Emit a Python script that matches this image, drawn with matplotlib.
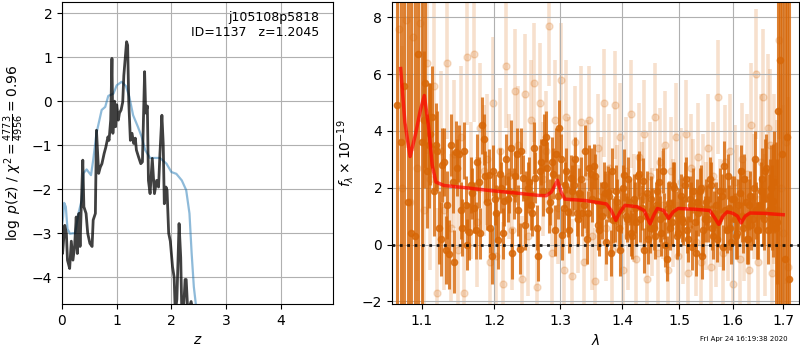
import numpy as np
import matplotlib
matplotlib.use("Agg")
import matplotlib.pyplot as plt
from matplotlib.ticker import FixedLocator, FixedFormatter, NullLocator

# ---------------- data: redshift probability ----------------
z_black = [0.00, 0.01, 0.05, 0.08, 0.10, 0.14, 0.17, 0.20, 0.23, 0.26, 0.28, 0.31, 0.33, 0.35,
           0.38, 0.40, 0.44, 0.47, 0.51, 0.55, 0.57, 0.61, 0.63, 0.67, 0.70, 0.73, 0.77,
           0.80, 0.84, 0.86, 0.89, 0.913, 0.93, 0.96, 0.98, 1.00, 1.03, 1.05, 1.08, 1.11,
           1.13, 1.18, 1.20, 1.22, 1.25, 1.28, 1.31, 1.34, 1.36, 1.40, 1.44, 1.47, 1.51,
           1.53, 1.56, 1.58, 1.61, 1.65, 1.69, 1.73, 1.765, 1.79, 1.826, 1.85, 1.87, 1.90,
           1.92, 1.95, 1.98, 2.02, 2.05, 2.07, 2.10, 2.14, 2.17, 2.19, 2.22, 2.25, 2.27,
           2.30, 2.36, 2.40, 2.45]
logp_black = [-2.9, -3.46, -2.82, -3.0, -3.61, -3.8, -3.18, -3.61, -3.3, -2.63, -3.46, -2.55, -3.3, -2.48,
              -1.34, -2.4, -2.55, -3.0, -3.23, -3.3, -2.7, -2.55, -0.66, -1.64, -1.5, -1.42, -1.19,
              -1.05, -0.81, -0.89, -0.43, 0.97, -0.73, 0.0, -0.58, -0.08, -0.43, -0.27, -0.2, -0.02,
              0.58, 1.35, 1.27, 0.0, -0.89, -0.73, -0.96, -0.84, -1.11, -1.27, -1.42, -1.38, 0.67,
              -0.27, -0.11, -1.8, -2.1, -1.3, -2.1, -1.8, -1.95, -1.2, -0.32, -0.96, -2.33, -1.95,
              -2.02, -3.0, -3.18, -3.76, -4.0, -4.8, -4.5, -2.78, -3.55, -4.8, -4.8, -4.05, -4.05,
              -4.8, -4.55, -4.8, -5.5]

z_blue = [0.0, 0.02, 0.04, 0.07, 0.10, 0.146, 0.2, 0.24, 0.30, 0.36, 0.39, 0.45, 0.53, 0.57,
          0.63, 0.725, 0.79, 0.846, 0.94, 1.0, 1.09, 1.17, 1.23, 1.30, 1.39, 1.456, 1.52,
          1.61, 1.70, 1.79, 1.91, 2.0, 2.09, 2.19, 2.27, 2.33, 2.37, 2.41, 2.45, 2.5]
logp_blue = [-2.8, -2.63, -2.31, -2.4, -2.9, -3.01, -3.0, -3.0, -2.55, -2.25, -1.64, -1.55, -1.68, -1.34,
             -0.73, -0.2, -0.13, 0.12, 0.17, 0.36, 0.44, 0.34, 0.1, -0.32, -0.59, -0.81, -1.11,
             -1.29, -1.29, -1.29, -1.42, -1.61, -1.65, -1.8, -2.02, -2.55, -3.46, -4.22, -4.65, -5.5]

label_text = "j105108p5818\nID=1137   z=1.2045"
left_yticks = [-4, -3, -2, -1, 0, 1, 2]
left_xticks = [0, 1, 2, 3, 4]

# ---------------- data: spectrum ----------------
wave_dark_start, wave_dark_end = 1.068, 1.712
flux_dark = [4.9, 3.6, 5.6, 1.5, 0.4, 0.3, 6.7, 3.6, 5.7, 3.5,
             4.5, 3.5, 0.6, 2.8, -0.2, -0.35, 2.2, 3.25, 3.2, 0.6,
             1.4, 0.45, 1.8, 0.5, 2.2, 4.2, 2.4, 2.45, -0.4, 1.6,
             0.15, 2.0, 1.55, 1.6, 3.4, 1.8, 3.2, -0.15, 2.35, 1.7,
             2.2, 1.1, 2.35, -0.4, 2.9, 3.6, 2.7, 1.5, 2.5, 3.2,
             4.1, 0.35, 2.1, 1.15, 2.35, 2.1, 1.1, 1.8, 1.1, 3.3,
             1.1, 2.5, 2.75, 1.55, 0.5, 1.0, 1.8, 1.85, -0.3, 0.85,
             1.9, 0.6, 1.2, 2.45, 0.9, 1.5, 0.3, 1.3, 2.4, 0.9,
             2.25, 1.0, 0.2, 1.6, 0.6, 1.4, 2.2, 0.4, 1.0, -0.5,
             1.45, 0.8, 2.0, 0.3, 1.2, 0.9, 2.1, 0.5, 1.6, -0.1,
             0.8, 1.5, 1.9, -0.4, 0.9, 1.3, 2.3, 0.6, 1.1, 0.2,
             0.9, 1.7, 2.75, 0.5, 1.3, 0.1, 1.6, 0.3, 1.4, 2.6,
             0.6, 1.5, 0.2, 1.7, 0.9, 3.0, 0.5, 1.4, 2.3, 0.9,
             2.7, 1.2, 2.0, 1.55, 0.6, 4.7, 6.5, 3.2, -0.5, 3.8,
             -1.2]
err_dark = [20, 20, 20, 20, 20, 20, 20, 12, 3.0, 2.2,
            1.8, 1.5, 1.3, 1.3, 1.2, 1.2, 1.1, 1.1, 1.0, 1.0,
            1.0, 1.0, 0.9, 1.0, 0.9, 1.0, 0.9, 0.9, 1.0, 0.9,
            1.0, 0.9, 0.9, 0.8, 1.0, 0.9, 0.9, 0.9, 0.8, 0.9,
            0.9, 0.8, 0.9, 0.9, 0.8, 1.0, 0.9, 0.8, 0.9, 0.9,
            1.0, 0.9, 0.8, 0.9, 0.8, 0.9, 0.8, 0.9, 0.8, 0.9,
            0.8, 0.9, 0.8, 0.8, 0.9, 0.8, 0.8, 0.9, 0.8, 0.8,
            0.9, 0.8, 0.8, 0.9, 0.8, 0.8, 0.8, 0.9, 0.8, 0.8,
            0.8, 0.8, 0.9, 0.8, 0.8, 0.8, 0.9, 0.8, 0.8, 0.8,
            0.8, 0.8, 0.9, 0.8, 0.8, 0.8, 0.8, 0.8, 0.8, 0.8,
            0.8, 0.8, 0.8, 0.8, 0.8, 0.8, 0.8, 0.8, 0.8, 0.8,
            0.8, 0.8, 0.9, 0.8, 0.8, 0.8, 0.8, 0.8, 0.9, 0.9,
            0.9, 0.9, 0.9, 0.9, 0.9, 1.0, 1.0, 1.0, 1.1, 1.1,
            1.2, 1.3, 1.5, 2.0, 3.0, 20, 20, 20, 20, 20,
            20]

wave_dark2_start, wave_dark2_end = 1.1025, 1.6865
flux_dark2 = [4.4, 2.6, 3.9, 1.9, 3.3, 0.2, 2.9, 1.4, 3.5, -0.6, 2.7,
              1.2, 3.3, 0.0, 2.1, 1.3, 2.9, 0.4, 3.7, 1.5, 0.6, 2.6,
              1.1, 2.5, 0.4, 3.0, 1.9, -0.3, 2.4, 1.2, 3.3, 0.7, 2.0,
              1.4, 3.4, 0.6, 2.6, 1.9, 3.8, 1.2, 2.9, 0.5, 1.7, 3.0,
              1.3, 2.6, 0.5, 1.9, 3.0, 0.9, 2.3, 1.4, 0.2, 2.7, 1.6,
              2.4, 0.7, 1.4, 2.1, 0.1, 1.7, 2.6, 0.9, 1.5, -0.2, 2.0,
              1.0, 2.3, 0.4, 1.6, 0.8, 2.5, 1.3, -0.2, 1.8, 0.6, 1.2,
              0.3, 1.9, 0.9, 2.6, 0.0, 1.3, 0.6, 2.1, 1.1, 0.4, 1.7,
              0.8, 2.3, 0.2, 1.4, 1.9, -0.3, 1.1, 2.0, 0.5, 1.5, 0.9,
              2.1, 0.3, 1.4, 0.8, 1.9, -0.1, 1.2, 2.4, 0.6, 1.6, 0.9,
              0.4, 1.8, 1.0, 2.3, 0.2, 1.4, 0.7, 2.0, 1.2, 0.5, 1.9,
              1.1, 2.6, 0.5, 1.7, 1.3, 2.2, 0.8]
err_dark2 = [2.4, 2.0, 1.8, 1.6, 1.4, 1.3, 1.2, 1.2, 1.1, 1.1, 1.0,
             1.0, 1.0, 0.9, 1.0, 0.9, 1.0, 0.9, 0.9, 1.0, 0.9, 0.9,
             1.0, 0.9, 0.9, 0.9, 0.8, 0.9, 0.9, 0.9, 0.8, 0.9, 0.9,
             0.9, 0.9, 0.8, 0.9, 0.9, 0.9, 0.8, 0.9, 0.9, 0.8, 0.9,
             0.9, 0.8, 0.8, 0.9, 0.8, 0.9, 0.8, 0.8, 0.9, 0.8, 0.8,
             0.8, 0.9, 0.8, 0.8, 0.8, 0.9, 0.8, 0.8, 0.8, 0.9, 0.8,
             0.8, 0.8, 0.8, 0.9, 0.8, 0.8, 0.8, 0.8, 0.8, 0.9, 0.8,
             0.8, 0.8, 0.8, 0.8, 0.8, 0.9, 0.8, 0.8, 0.8, 0.8, 0.8,
             0.8, 0.8, 0.8, 0.8, 0.8, 0.8, 0.8, 0.8, 0.9, 0.8, 0.8,
             0.8, 0.8, 0.8, 0.9, 0.8, 0.8, 0.8, 0.8, 0.8, 0.8, 0.9,
             0.9, 0.9, 0.9, 0.9, 0.9, 0.9, 0.9, 1.0, 1.0, 1.0, 1.0,
             1.1, 1.1, 1.2, 1.3, 1.5, 1.8, 2.2]

wave_light_start, wave_light_end = 1.0703, 1.7097
flux_light = [7.6, 2.0, 7.9, 1.5, 7.3, 2.7, 7.8, 1.2, 6.4, 2.3,
              5.6, -1.7, 3.3, 1.2, 6.4, 0.6, 3.2, -0.2, 3.8, -1.7,
              6.6, 1.9, 6.7, 0.8, 4.1, 2.6, 3.0, -0.6, 5.0, -0.4,
              3.3, -1.4, 6.3, 2.4, 0.5, 5.4, 3.5, -1.2, 5.3, 0.3,
              4.4, 5.7, -1.5, 5.0, 2.3, 3.3, 7.7, -0.3, 4.4, 1.3,
              5.8, -0.9, 4.5, 2.5, -1.1, 3.6, 0.9, 4.3, -0.6, 2.4,
              4.4, 0.3, -1.3, 3.4, 1.9, 5.0, 0.6, 2.7, -0.2, 4.9,
              1.6, 3.8, -0.9, 2.6, 0.3, 4.6, 1.3, -0.5, 3.1, 1.7,
              3.9, -1.2, 2.4, 0.8, 4.5, -0.3, 2.9, 1.4, 3.5, -0.9,
              2.6, 1.1, 3.8, -0.4, 2.2, 0.5, 3.9, -1.0, 2.7, 1.8,
              0.1, 3.1, -0.6, 2.0, 1.0, 3.4, -0.8, 2.4, 0.4, 5.2,
              1.1, -0.3, 2.9, 0.6, 3.3, -1.4, 2.2, 1.5, -0.5, 3.0,
              0.8, 2.5, -0.9, 4.2, 1.7, 6.0, -0.6, 2.9, 5.2, 0.7,
              4.1, 3.5, -1.0, 2.3, 1.2, 7.2, 2.0, 0.4, 3.6, -0.8]
err_light = [5.0, 5.0, 4.5, 4.5, 4.0, 4.0, 3.5, 3.5, 3.2, 3.2,
             3.0, 3.0, 2.8, 2.8, 2.7, 2.6, 2.6, 2.5, 2.5, 2.4,
             2.4, 2.4, 2.4, 2.3, 2.3, 2.3, 2.3, 2.2, 2.3, 2.2,
             2.2, 2.2, 2.2, 2.2, 2.1, 2.2, 2.1, 2.2, 2.1, 2.1,
             2.1, 2.1, 2.1, 2.1, 2.0, 2.1, 2.1, 2.0, 2.1, 2.0,
             2.0, 2.0, 2.0, 2.0, 2.0, 2.0, 1.9, 2.0, 1.9, 2.0,
             1.9, 1.9, 1.9, 1.9, 1.9, 1.9, 1.9, 1.9, 1.9, 1.9,
             1.9, 1.9, 1.9, 1.9, 1.9, 1.9, 1.9, 1.9, 1.9, 1.9,
             1.9, 1.9, 1.9, 1.9, 1.9, 1.9, 1.9, 1.9, 1.9, 1.9,
             1.9, 1.9, 1.9, 1.9, 1.9, 1.9, 1.9, 1.9, 1.9, 1.9,
             1.9, 1.9, 1.9, 1.9, 1.9, 1.9, 1.9, 1.9, 1.9, 2.0,
             1.9, 1.9, 2.0, 1.9, 2.0, 2.0, 2.0, 2.0, 2.0, 2.0,
             2.1, 2.1, 2.1, 2.2, 2.2, 2.3, 2.3, 2.4, 2.4, 2.5,
             2.6, 2.7, 2.8, 3.0, 3.2, 3.5, 4.0, 4.5, 5.0, 6.0]

model_wave = [1.0725, 1.078, 1.0848, 1.092, 1.098, 1.1035, 1.109, 1.114, 1.119, 1.13,
              1.16, 1.195, 1.23, 1.2665, 1.278, 1.286, 1.2954, 1.301, 1.307, 1.34,
              1.374, 1.382, 1.3896, 1.397, 1.405, 1.426, 1.438, 1.448, 1.455, 1.461,
              1.472, 1.481, 1.489, 1.498, 1.53, 1.556, 1.565, 1.573, 1.581, 1.589,
              1.6, 1.609, 1.616, 1.624, 1.633, 1.66, 1.70]
model_flux = [6.2, 4.3, 3.1, 3.9, 4.7, 5.25, 4.2, 2.8, 2.2, 2.08,
              2.0, 1.9, 1.82, 1.73, 1.72, 1.85, 2.26, 1.85, 1.6, 1.55,
              1.43, 1.2, 0.85, 1.15, 1.38, 1.33, 1.2, 0.73, 1.05, 1.27,
              1.2, 0.92, 1.15, 1.27, 1.24, 1.2, 0.95, 0.71, 1.0, 1.15,
              1.1, 1.0, 0.76, 1.0, 1.11, 1.1, 1.05]

spec_xticks = [1.1, 1.2, 1.3, 1.4, 1.5, 1.6, 1.7]
spec_xlabels = ["1.1", "1.2", "1.3", "1.4", "1.5", "1.6", "1.7"]
spec_yticks = [-2, 0, 2, 4, 6, 8]
timestamp = "Fri Apr 24 16:19:38 2020"

# ---------------- figure ----------------
G141 = (0.8431, 0.4039, 0.0275)

fig = plt.figure(figsize=(8, 3.5), dpi=100)
ax1 = fig.add_axes([0.0775, 0.131, 0.3385, 0.863])
ax2 = fig.add_axes([0.49, 0.131, 0.509, 0.863])

ax1.plot(z_blue, logp_blue, color='tab:blue', alpha=0.5, lw=1.6, zorder=2)
ax1.plot(z_black, logp_black, color='k', alpha=0.75, lw=2, zorder=3)
ax1.set_xlim(0, 4.95)
ax1.set_ylim(-4.61, 2.25)
ax1.set_xticks(left_xticks)
ax1.set_yticks(left_yticks)
ax1.grid(True)
ax1.set_xlabel(r'$z$')
ax1.set_ylabel(r'$\log\ p(z)$' + ' / ' + r'$\chi^2=\frac{4773}{4956}=0.96$')
ax1.text(0.95, 0.97, label_text, transform=ax1.transAxes, ha='right', va='top',
         fontsize=9, linespacing=1.2)

wave_dark = np.linspace(wave_dark_start, wave_dark_end, len(flux_dark))
wave_dark2 = np.linspace(wave_dark2_start, wave_dark2_end, len(flux_dark2))
wave_light = np.linspace(wave_light_start, wave_light_end, len(flux_light))

ax2.errorbar(wave_light, flux_light, yerr=err_light, color=G141, alpha=0.2,
             marker='o', ms=5, linestyle='None', elinewidth=2.6, zorder=1)
ax2.errorbar(wave_dark, flux_dark, yerr=err_dark, color=G141, alpha=0.8,
             marker='o', ms=4.5, linestyle='None', elinewidth=2.2, zorder=2)
ax2.errorbar(wave_dark2, flux_dark2, yerr=err_dark2, color=G141, alpha=0.8,
             marker='o', ms=4.5, linestyle='None', elinewidth=2.2, zorder=2)
ax2.plot(model_wave, model_flux, color='r', alpha=0.7, lw=2.5, zorder=4)
ax2.axhline(0, color='k', linestyle=':', lw=2, alpha=0.85, zorder=5)

ax2.set_xscale('log')
ax2.set_xlim(1.0614, 1.733)
ax2.set_ylim(-2.1, 8.54)
ax2.xaxis.set_major_locator(FixedLocator(spec_xticks))
ax2.xaxis.set_major_formatter(FixedFormatter(spec_xlabels))
ax2.xaxis.set_minor_locator(NullLocator())
ax2.set_yticks(spec_yticks)
ax2.grid(True)
ax2.set_xlabel(r'$\lambda$')
ax2.set_ylabel(r'$f_\lambda\times10^{-19}$')

fig.text(0.985, 0.031, timestamp, ha='right', va='center', fontsize=5)

fig.savefig('out.png', dpi=100)
